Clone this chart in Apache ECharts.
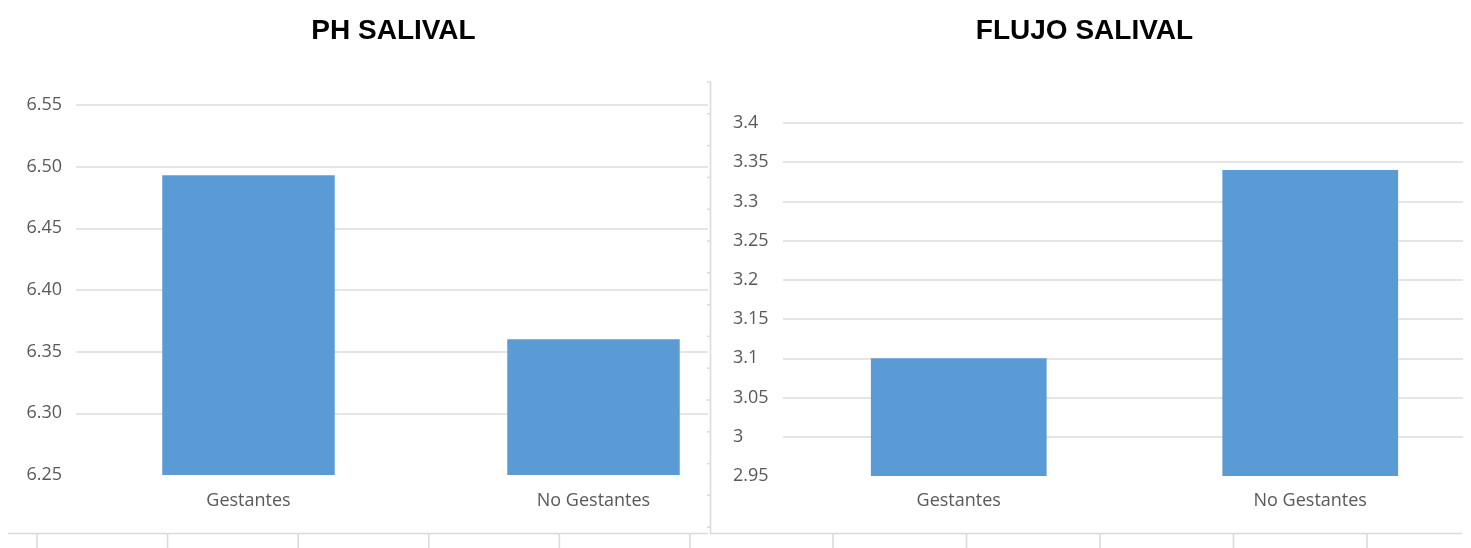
<!DOCTYPE html>
<html>
<head>
<meta charset="utf-8">
<script src="https://cdn.jsdelivr.net/npm/echarts@6/dist/echarts.min.js"></script>
<style>
  html, body { margin: 0; padding: 0; background: #fff; overflow: hidden; }
  #chart { width: 1500px; height: 548px; }
</style>
</head>
<body>
<div id="chart"></div>
<script>
// Categories shared by both panels
const categories = ['Gestantes', 'No Gestantes'];

// Mean salivary pH per group
const phValues = [6.493, 6.36];
// Mean salivary flow per group
const flujoValues = [3.10, 3.34];

// Value-axis ranges: [min, max, step]
const phRange = [6.25, 6.55, 0.05];
const flujoRange = [2.95, 3.40, 0.05];

// Panel titles
const titles = ['PH SALIVAL', 'FLUJO SALIVAL'];

const BAR = '#5b9bd5';
const GRID_LINE = '#dcdcdc';
const FRAME = '#d9d9d9';
const LABEL = '#595959';
const LABEL_FONT = '"Open Sans", "Noto Sans", sans-serif';
const TITLE_FONT = '"Liberation Sans", Arial, sans-serif';

const chart = echarts.init(document.getElementById('chart'), null, { renderer: 'canvas' });

// Decorative frame: bottom rules with drop ticks, and the divider between panels
const frame = [];
function seg(x1, y1, x2, y2) {
  frame.push({ type: 'line', z: 30, silent: true,
    shape: { x1: x1, y1: y1, x2: x2, y2: y2 },
    style: { stroke: FRAME, lineWidth: 1.5 } });
}
seg(8, 533.5, 708, 533.5);
seg(710, 533.5, 1462, 533.5);
for (let i = 0; i < 6; i++) seg(37 + i * 130.6, 533.5, 37 + i * 130.6, 548);
for (let i = 0; i < 5; i++) seg(833 + i * 133.5, 533.5, 833 + i * 133.5, 548);
seg(710.5, 82, 710.5, 533.5);
for (let i = 0; i <= 14; i++) seg(707, 82 + i * 31.8, 710.5, 82 + i * 31.8);

const option = {
  animation: false,
  backgroundColor: '#ffffff',
  title: [
    { text: titles[0], left: 388.5, top: 12, textAlign: 'center',
      textStyle: { fontFamily: TITLE_FONT, fontWeight: 'bold', fontSize: 28, color: '#000' } },
    { text: titles[1], left: 1079.5, top: 12, textAlign: 'center',
      textStyle: { fontFamily: TITLE_FONT, fontWeight: 'bold', fontSize: 28, color: '#000' } }
  ],
  grid: [
    { left: 76, top: 105, width: 690, height: 370 },
    { left: 783, top: 123, width: 703, height: 353 }
  ],
  xAxis: [
    { type: 'category', gridIndex: 0, data: categories,
      axisLine: { show: false }, axisTick: { show: false },
      axisLabel: { margin: 17, fontSize: 18, color: LABEL, fontFamily: LABEL_FONT } },
    { type: 'category', gridIndex: 1, data: categories,
      axisLine: { show: false }, axisTick: { show: false },
      axisLabel: { margin: 16, fontSize: 18, color: LABEL, fontFamily: LABEL_FONT } }
  ],
  yAxis: [
    { type: 'value', gridIndex: 0, z: 0,
      min: phRange[0], max: phRange[1], interval: phRange[2],
      axisLine: { show: false }, axisTick: { show: false },
      splitLine: { show: true, showMinLine: false, lineStyle: { color: GRID_LINE, width: 1.5 } },
      axisLabel: { margin: 14, fontSize: 18, color: LABEL, fontFamily: LABEL_FONT,
        formatter: v => v.toFixed(2) } },
    { type: 'value', gridIndex: 1, z: 10,
      min: flujoRange[0], max: flujoRange[1], interval: flujoRange[2],
      axisLine: { show: false }, axisTick: { show: false },
      splitLine: { show: true, showMinLine: false, lineStyle: { color: GRID_LINE, width: 1.5 } },
      axisLabel: { margin: 50, align: 'left', fontSize: 18, color: LABEL, fontFamily: LABEL_FONT,
        formatter: v => String(parseFloat(v.toFixed(2))) } }
  ],
  series: [
    { type: 'bar', xAxisIndex: 0, yAxisIndex: 0, data: phValues, barWidth: '50%', z: 12,
      itemStyle: { color: BAR } },
    { type: 'bar', xAxisIndex: 1, yAxisIndex: 1, data: flujoValues, barWidth: '50%', z: 12,
      itemStyle: { color: BAR } }
  ],
  graphic: [
    // trims the left panel's grid lines at the divider
    { type: 'rect', z: 5, silent: true,
      shape: { x: 708, y: 90, width: 75, height: 400 },
      style: { fill: '#ffffff' } },
    // trims the right panel's grid lines before the page edge
    { type: 'rect', z: 20, silent: true,
      shape: { x: 1463, y: 90, width: 40, height: 400 },
      style: { fill: '#ffffff' } }
  ].concat(frame)
};

chart.setOption(option);
</script>
</body>
</html>
